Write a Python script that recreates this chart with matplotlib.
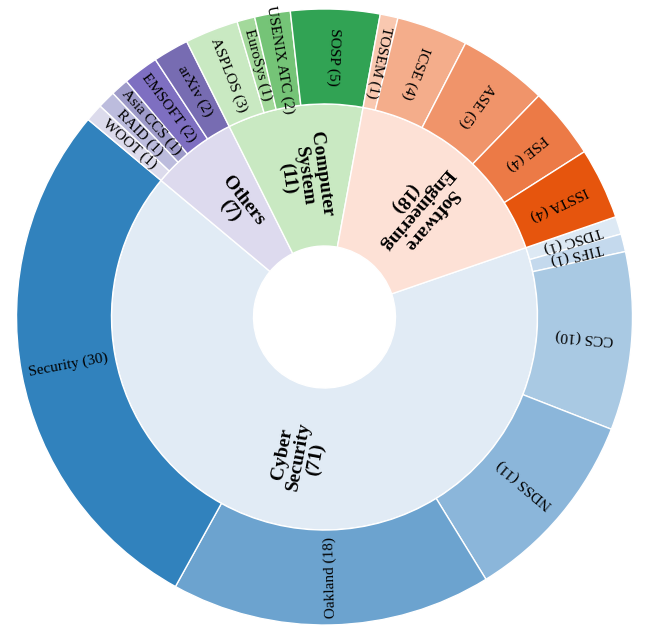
import numpy as np
import matplotlib
matplotlib.use("Agg")
import matplotlib.pyplot as plt

# inner ring: research areas (clockwise order)
areas = ["Cyber\nSecurity", "Others", "Computer\nSystem", "Software\nEngineering"]
area_counts = [71, 7, 11, 18]
area_colors = ["#e1ebf5", "#dddaee", "#c9e9c2", "#fde1d6"]

# outer ring: venues (clockwise order, grouped by area)
venues = ["TDSC", "TIFS", "CCS", "NDSS", "Oakland", "Security",
          "WOOT", "RAID", "Asia CCS", "EMSOFT", "arXiv",
          "ASPLOS", "EuroSys", "USENIX ATC", "SOSP",
          "TOSEM", "ICSE", "ASE", "FSE", "ISSTA"]
venue_counts = [1, 1, 10, 11, 18, 30,
                1, 1, 1, 2, 2,
                3, 1, 2, 5,
                1, 4, 5, 4, 4]
venue_colors = ["#dde9f4", "#c4d9ed", "#a9c9e3", "#8bb6da", "#6ca3cf", "#3182bd",
                "#dcdbec", "#bcbcdd", "#9e9bc9", "#7e6fc1", "#776cb2",
                "#c9e9c2", "#a3d99b", "#75c477", "#31a354",
                "#f9c8b0", "#f4ad8b", "#f0946a", "#ec7a46", "#e6550d"]

R_HOLE = 0.2305
R_MID = 0.6916
R_OUT = 1.0
START = 19  # degrees, counter-clockwise from +x


def add_labels(ax, wedges, texts, r, **kw):
    """Put each label at the middle of its wedge, reading toward the centre."""
    for w, t in zip(wedges, texts):
        mid = (w.theta1 + w.theta2) / 2
        x = r * np.cos(np.radians(mid))
        y = r * np.sin(np.radians(mid))
        ax.text(x, y, t, rotation=mid + 180, rotation_mode="anchor",
                ha="center", va="center", family="Liberation Serif", **kw)


def main():
    fig = plt.figure(figsize=(6.47, 6.32), dpi=100)
    ax = fig.add_axes([0, 0, 1, 1])

    inner, _ = ax.pie(area_counts, radius=R_MID, startangle=START, counterclock=False,
                      colors=area_colors,
                      wedgeprops=dict(width=R_MID - R_HOLE, edgecolor="white", linewidth=1))
    outer, _ = ax.pie(venue_counts, radius=R_OUT, startangle=START, counterclock=False,
                      colors=venue_colors,
                      wedgeprops=dict(width=R_OUT - R_MID, edgecolor="white", linewidth=1))

    area_labels = [f"{a}\n({n})" for a, n in zip(areas, area_counts)]
    venue_labels = [f"{v} ({n})" for v, n in zip(venues, venue_counts)]
    add_labels(ax, inner, area_labels, (R_HOLE + R_MID) / 2,
               fontsize=14, fontweight="bold", linespacing=1.0)
    add_labels(ax, outer, venue_labels, (R_MID + R_OUT) / 2, fontsize=11)

    ax.set_aspect("auto")
    ax.set_xlim(-1.0536, 1.0471)
    ax.set_ylim(-1.0227, 1.0292)
    ax.axis("off")

    fig.savefig("out.png", dpi=100)


if __name__ == "__main__":
    main()
